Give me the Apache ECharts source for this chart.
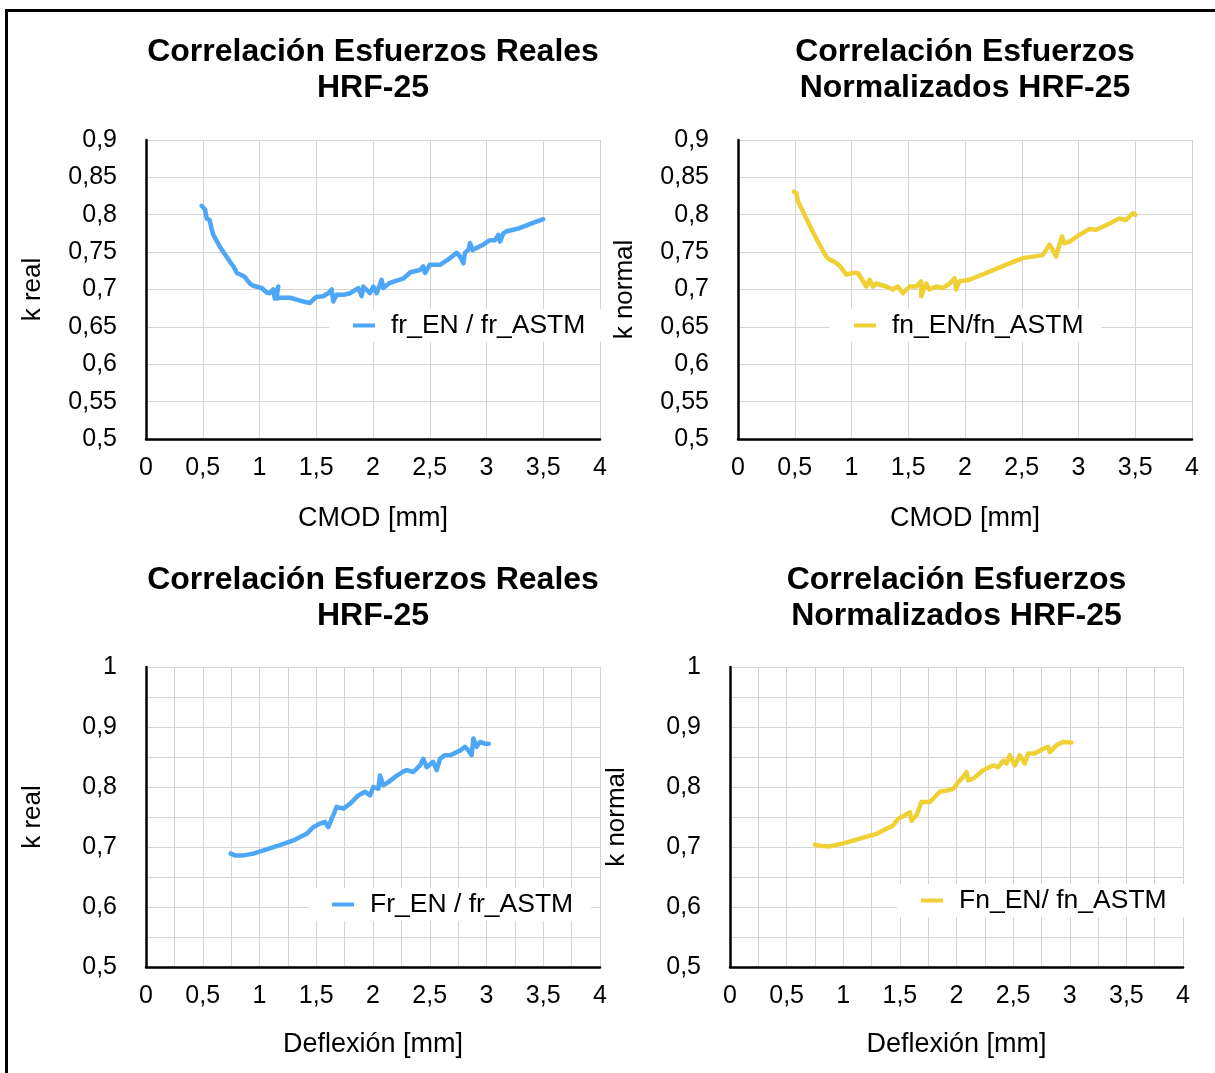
<!DOCTYPE html>
<html>
<head>
<meta charset="utf-8">
<script src="https://cdn.jsdelivr.net/npm/echarts@6/dist/echarts.min.js"></script>
<style>
    html, body { margin: 0; padding: 0; background: #fff; }
    #chart { width: 1215px; height: 1073px; }
</style>
</head>
<body>
<div id="chart"></div>
<script>
// datos
const cmodReal = [0.49,0.52,0.535,0.56,0.58,0.593,0.652,0.74,0.77,0.8,0.83,0.87,0.916,0.946,1.02,1.063,1.09,1.12,1.135,1.165,1.15,1.18,1.27,1.357,1.445,1.47,1.5,1.56,1.606,1.636,1.65,1.68,1.74,1.8,1.87,1.9,1.915,1.973,2.003,2.032,2.076,2.09,2.15,2.27,2.33,2.414,2.443,2.458,2.5,2.59,2.63,2.68,2.737,2.767,2.796,2.81,2.84,2.855,2.878,2.88,2.97,3.03,3.075,3.104,3.119,3.148,3.18,3.29,3.41,3.5];
const kReal = [0.812,0.807,0.795,0.793,0.78,0.773,0.757,0.737,0.731,0.722,0.72,0.717,0.708,0.705,0.702,0.696,0.695,0.7,0.688,0.704,0.688,0.689,0.689,0.685,0.682,0.686,0.69,0.691,0.695,0.7,0.684,0.693,0.693,0.695,0.702,0.691,0.704,0.695,0.704,0.695,0.713,0.702,0.709,0.715,0.723,0.726,0.731,0.722,0.733,0.733,0.737,0.742,0.749,0.744,0.735,0.749,0.753,0.762,0.753,0.751,0.76,0.766,0.766,0.773,0.764,0.775,0.778,0.782,0.789,0.794];

const cmodNorm = [0.493,0.514,0.528,0.558,0.63,0.704,0.778,0.807,0.851,0.895,0.954,1.012,1.057,1.086,1.13,1.159,1.189,1.218,1.306,1.365,1.409,1.453,1.511,1.57,1.614,1.614,1.658,1.687,1.746,1.805,1.864,1.908,1.922,1.95,2.04,2.216,2.36,2.51,2.685,2.744,2.773,2.803,2.832,2.855,2.876,2.92,3.008,3.096,3.155,3.243,3.36,3.42,3.478,3.5];
const kNorm = [0.831,0.829,0.818,0.809,0.786,0.764,0.744,0.74,0.737,0.732,0.72,0.722,0.722,0.715,0.704,0.713,0.704,0.708,0.704,0.7,0.704,0.695,0.704,0.704,0.711,0.691,0.708,0.7,0.704,0.702,0.708,0.715,0.7,0.711,0.713,0.724,0.733,0.742,0.746,0.76,0.753,0.744,0.76,0.771,0.762,0.764,0.773,0.781,0.78,0.786,0.795,0.793,0.802,0.8];

const deflReal = [0.746,0.784,0.858,0.946,1.063,1.18,1.298,1.415,1.474,1.533,1.577,1.606,1.636,1.65,1.68,1.739,1.797,1.87,1.93,1.974,2.003,2.047,2.062,2.091,2.12,2.21,2.27,2.297,2.355,2.414,2.443,2.473,2.53,2.561,2.59,2.634,2.68,2.77,2.81,2.84,2.869,2.884,2.913,2.943,2.99,3.02];
const kRealDefl = [0.689,0.686,0.686,0.689,0.696,0.703,0.711,0.722,0.733,0.739,0.742,0.733,0.747,0.753,0.767,0.764,0.772,0.786,0.792,0.786,0.8,0.797,0.819,0.803,0.806,0.819,0.826,0.828,0.825,0.836,0.847,0.833,0.842,0.828,0.847,0.853,0.853,0.861,0.867,0.861,0.853,0.881,0.867,0.875,0.872,0.872];

const deflNorm = [0.75,0.794,0.882,1.0,1.147,1.294,1.44,1.485,1.544,1.588,1.603,1.647,1.691,1.72,1.765,1.853,1.91,1.97,2.029,2.059,2.088,2.103,2.147,2.235,2.32,2.368,2.412,2.441,2.471,2.515,2.559,2.603,2.632,2.69,2.78,2.809,2.824,2.88,2.94,3.015];
const kNormDefl = [0.704,0.702,0.701,0.706,0.714,0.722,0.736,0.747,0.753,0.758,0.744,0.753,0.775,0.775,0.775,0.792,0.794,0.797,0.811,0.817,0.825,0.811,0.814,0.828,0.836,0.833,0.844,0.839,0.853,0.836,0.853,0.839,0.856,0.856,0.865,0.867,0.858,0.869,0.875,0.874];

const titles = ['Correlación Esfuerzos Reales\nHRF-25', 'Correlación Esfuerzos\nNormalizados HRF-25',
                'Correlación Esfuerzos Reales\nHRF-25', 'Correlación Esfuerzos\nNormalizados HRF-25'];
const seriesNames = ['fr_EN / fr_ASTM', 'fn_EN/fn_ASTM', 'Fr_EN / fr_ASTM', 'Fn_EN/ fn_ASTM'];
const xNames = ['CMOD [mm]', 'CMOD [mm]', 'Deflexión [mm]', 'Deflexión [mm]'];
const yNames = ['k real', 'k normal', 'k real', 'k normal'];

const BLUE = '#4ea6f6';
const YELLOW = '#efd035';
const FONT = '"Liberation Sans", Arial, Helvetica, sans-serif';

// posiciones de los cuatro paneles
const grids = [
    { left: 146, top: 140, width: 454, height: 299 },
    { left: 738, top: 140, width: 454, height: 299 },
    { left: 146, top: 667, width: 454, height: 300 },
    { left: 730, top: 667, width: 453, height: 300 }
];
const legendPos = [
    { left: 329, top: 309 },
    { left: 830, top: 309 },
    { left: 308, top: 888 },
    { left: 897, top: 884 }
];

function comma(v) {
    return String(Number(v.toFixed(2))).replace('.', ',');
}

function pairs(xs, ys) {
    return xs.map((x, i) => [x, ys[i]]);
}

function buildOption() {
    const datos = [pairs(cmodReal, kReal), pairs(cmodNorm, kNorm), pairs(deflReal, kRealDefl), pairs(deflNorm, kNormDefl)];
    const colors = [BLUE, YELLOW, BLUE, YELLOW];

    const title = grids.map((g, i) => ({
        text: titles[i],
        left: g.left + g.width / 2,
        top: i >= 2 ? 562 : 34,
        textAlign: 'center',
        padding: 0,
        textStyle: { fontFamily: FONT, fontSize: 32, fontWeight: 'bold', color: '#000', lineHeight: 36 }
    }));

    const xAxis = grids.map((g, i) => {
        const bottom = i >= 2;
        return {
            type: 'value', gridIndex: i, min: 0, max: 4, interval: 0.5,
            name: xNames[i], nameLocation: 'middle', nameGap: bottom ? 64 : 66,
            nameTextStyle: { fontFamily: FONT, fontSize: 27, color: '#000' },
            axisLine: { show: true, onZero: false, lineStyle: { color: '#000', width: 2.5 } },
            axisTick: { show: false },
            axisLabel: { fontFamily: FONT, fontSize: 25, color: '#000', margin: 17, formatter: comma },
            splitLine: { show: true, lineStyle: { color: '#d4d4d4', width: 1 } },
            minorTick: { show: false, splitNumber: 2 },
            minorSplitLine: { show: bottom, lineStyle: { color: '#d4d4d4', width: 1 } }
        };
    });

    const yAxis = grids.map((g, i) => {
        const bottom = i >= 2;
        return {
            type: 'value', gridIndex: i, min: 0.5, max: bottom ? 1 : 0.9, interval: bottom ? 0.1 : 0.05,
            name: yNames[i], nameLocation: 'middle', nameGap: 100, nameRotate: 90,
            nameTextStyle: { fontFamily: FONT, fontSize: 26, color: '#000' },
            axisLine: { show: true, lineStyle: { color: '#000', width: 2.5 } },
            axisTick: { show: false },
            axisLabel: { fontFamily: FONT, fontSize: 25, color: '#000', margin: 29, formatter: comma },
            splitLine: { show: true, lineStyle: { color: '#d4d4d4', width: 1 } },
            minorTick: { show: false, splitNumber: 2 },
            minorSplitLine: { show: bottom, lineStyle: { color: '#d4d4d4', width: 1 } }
        };
    });

    const legend = grids.map((g, i) => ({
        data: [seriesNames[i]],
        left: legendPos[i].left,
        top: legendPos[i].top,
        orient: 'horizontal',
        backgroundColor: '#fff',
        padding: [3, 18, 3, 24],
        icon: 'rect',
        itemWidth: 22,
        itemHeight: 4,
        itemGap: 0,
        textStyle: { fontFamily: FONT, fontSize: 26.5, color: '#000', padding: [0, 0, 0, 11] }
    }));

    const series = grids.map((g, i) => ({
        name: seriesNames[i],
        type: 'line',
        xAxisIndex: i,
        yAxisIndex: i,
        data: datos[i],
        showSymbol: false,
        smooth: false,
        color: colors[i],
        lineStyle: { color: colors[i], width: 4.5, join: 'round', cap: 'round' },
        animation: false
    }));

    return {
        backgroundColor: '#fff',
        animation: false,
        title: title,
        grid: grids,
        xAxis: xAxis,
        yAxis: yAxis,
        legend: legend,
        series: series,
        graphic: [{
            type: 'polyline',
            shape: { points: [[6.5, 1073], [6.5, 10.5], [1215, 10.5]] },
            style: { stroke: '#000', lineWidth: 3, fill: null }
        }]
    };
}

document.addEventListener('DOMContentLoaded', function() {
    const chart = echarts.init(document.getElementById('chart'), null, { renderer: 'canvas' });
    chart.setOption(buildOption());
});
</script>
</body>
</html>
